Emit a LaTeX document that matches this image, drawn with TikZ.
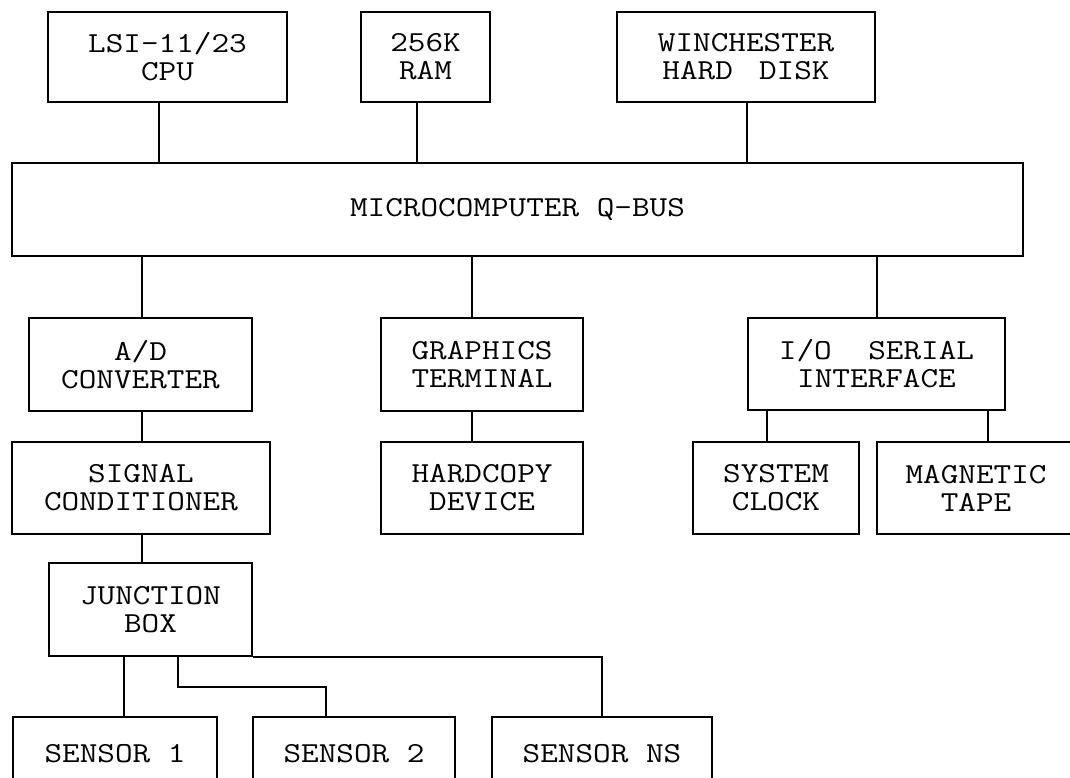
\documentclass[tikz,border=0pt]{standalone}
\usepackage{fontspec}
\setmonofont[FakeStretch=1.18]{Latin Modern Mono}
\begin{document}
\begin{tikzpicture}[x=1pt,y=-1pt,
  box/.style={draw, line width=2.2pt, inner sep=0pt, align=center,
    font=\ttfamily\fontsize{29}{28}\selectfont},
  conn/.style={line width=2.2pt}]
\useasboundingbox (0,0) rectangle (1070,777);
\fill[white] (0,0) rectangle (1070,777);
\clip (0,0) rectangle (1070,777);
% top row
\node[box, minimum width=239, minimum height=90] (cpu) at (167.5,57) {LSI-11/23\\CPU};
\node[box, minimum width=129, minimum height=90] (ram) at (425.5,57) {256K\\RAM};
\node[box, minimum width=258, minimum height=90] (disk) at (746,57) {WINCHESTER\\HARD\hspace{0.9em}DISK};
% bus
\node[box, minimum width=1011, minimum height=93] (bus) at (517.5,209.5) {MICROCOMPUTER Q-BUS};
% middle row
\node[box, minimum width=223, minimum height=93] (adc) at (140.5,364.5) {A/D\\CONVERTER};
\node[box, minimum width=202, minimum height=93] (gfx) at (482,364.5) {GRAPHICS\\TERMINAL};
\node[box, minimum width=257, minimum height=92] (io) at (876.5,364) {I/O\hspace{0.65em} SERIAL\\INTERFACE};
% lower row
\node[box, minimum width=258, minimum height=92] (sig) at (141,488) {SIGNAL\\CONDITIONER};
\node[box, minimum width=202, minimum height=92] (hcd) at (482,488) {HARDCOPY\\DEVICE};
\node[box, minimum width=166, minimum height=92] (clk) at (776,488) {SYSTEM\\CLOCK};
\node[box, minimum width=198, minimum height=92] (tape) at (976,488) {MAGNETIC\\TAPE};
% junction
\node[box, minimum width=203, minimum height=93] (jbox) at (150.5,609.5) {JUNCTION\\BOX};
% sensors
\node[box, minimum width=204, minimum height=74] (s1) at (115,754) {SENSOR 1};
\node[box, minimum width=202, minimum height=74] (s2) at (354,754) {SENSOR 2};
\node[box, minimum width=220, minimum height=74] (sns) at (602,754) {SENSOR NS};
% connectors
\draw[conn] ([xshift=-8.5]cpu.south) -- ([xshift=-8.5]cpu.south |- bus.north);
\draw[conn] ([xshift=-8.5]ram.south) -- ([xshift=-8.5]ram.south |- bus.north);
\draw[conn] ([xshift=1]disk.south) -- ([xshift=1]disk.south |- bus.north);
\draw[conn] ([xshift=1.5]adc.north) -- ([xshift=1.5]adc.north |- bus.south);
\draw[conn] ([xshift=-10]gfx.north) -- ([xshift=-10]gfx.north |- bus.south);
\draw[conn] ([xshift=0.5]io.north) -- ([xshift=0.5]io.north |- bus.south);
\draw[conn] ([xshift=1.5]adc.south) -- ([xshift=1.5]adc.south |- sig.north);
\draw[conn] ([xshift=-10]gfx.south) -- ([xshift=-10]gfx.south |- hcd.north);
\draw[conn] ([xshift=-9]clk.north) -- ([xshift=-9]clk.north |- io.south);
\draw[conn] ([xshift=12]tape.north) -- ([xshift=12]tape.north |- io.south);
\draw[conn] ([xshift=-8.5]jbox.north) -- ([xshift=-8.5]jbox.north |- sig.south);
\draw[conn] ([xshift=9]s1.north) -- ([xshift=9]s1.north |- jbox.south);
\draw[conn] ([xshift=27.5]jbox.south) -- ++(0,30) -| ([xshift=-28]s2.north);
\draw[conn] (jbox.south east) -| (sns.north);
\end{tikzpicture}
\end{document}
